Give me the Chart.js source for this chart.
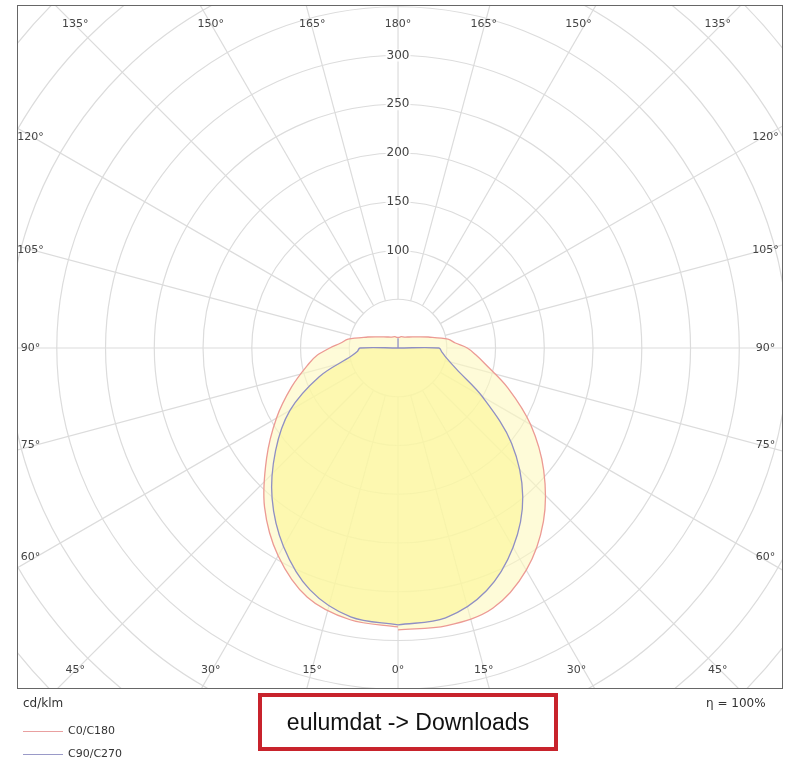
<!DOCTYPE html>
<html><head><meta charset="utf-8">
<script src="https://cdn.jsdelivr.net/npm/chart.js@4.4.1/dist/chart.umd.min.js"></script>
<style>
body{margin:0;background:#fff;font-family:"DejaVu Sans",sans-serif;}
#wrap{position:relative;width:800px;height:764px;}
#box{position:absolute;left:17px;top:5px;width:764px;height:682px;border:1px solid #666;pointer-events:none;}
.t{position:absolute;font-size:12px;color:#333;}
#dl{position:absolute;left:258px;top:693px;width:292px;height:50px;border:4px solid #c8232c;font-family:"Liberation Sans",Arial,sans-serif;font-size:23px;color:#111;text-align:center;line-height:50px;}
.lg{position:absolute;left:23px;width:40px;height:0;border-top:1px solid;}
</style></head><body>
<div id="wrap">
<canvas id="c" width="800" height="764"></canvas>
<div id="box"></div>
<div class="t" style="left:23px;top:696px;">cd/klm</div>
<div class="t" style="left:706px;top:696px;">η = 100%</div>
<div class="lg" style="top:731px;border-color:#e9a0a0"></div>
<div class="t" style="left:68px;top:724px;font-size:11px;">C0/C180</div>
<div class="lg" style="top:754px;border-color:#9a9ac8"></div>
<div class="t" style="left:68px;top:747px;font-size:11px;">C90/C270</div>
<div id="dl">eulumdat -&gt; Downloads</div>
</div>
<script>
const gamma = [0,10,20,30,40,50,60,70,80,85,90,95,100,110,120,135,150,165,175,180];
const C0   = [289,289,284,263,232,195,157,120,90,80,71,59,52,33,23,16,13,12,11,11];
const C180 = [286,283,272,246,213,176,144,116,93,83,70,59,52,33,23,16,13,12,11,11];
const C90  = [284,281,265,236,199,152,100,64,49,45,42,0,0,0,0,0,0,0,0,10];
const C270 = [284,280,264,235,201,164,128,86,49,42,39,0,0,0,0,0,0,0,0,10];
const ringValues = [50,100,150,200,250,300,350,400,450,500,550];
const ringLabels = ['100','150','200','250','300'];
const spokeAngles = [0,15,30,45,60,75,90,105,120,135,150,165,180,195,210,225,240,255,270,285,300,315,330,345];
const angleLabels = [
 {t:'0°',x:0,y:-330},{t:'15°',x:88,y:-330},{t:'30°',x:183,y:-330},{t:'45°',x:328,y:-330},
 {t:'15°',x:-88,y:-330},{t:'30°',x:-192,y:-330},{t:'45°',x:-331,y:-330},
 {t:'180°',x:0,y:332},{t:'165°',x:88,y:332},{t:'150°',x:185,y:332},{t:'135°',x:328,y:332},
 {t:'165°',x:-88,y:332},{t:'150°',x:-192,y:332},{t:'135°',x:-331,y:332},
 {t:'120°',x:-377,y:216},{t:'105°',x:-377,y:100},{t:'90°',x:-377,y:0},{t:'75°',x:-377,y:-100},{t:'60°',x:-377,y:-215},
 {t:'120°',x:377,y:216},{t:'105°',x:377,y:100},{t:'90°',x:377,y:0},{t:'75°',x:377,y:-100},{t:'60°',x:377,y:-215}
];
function loop(right,left){
  const pts=[];
  for(let i=0;i<gamma.length;i++){const a=gamma[i]*Math.PI/180;pts.push({x:right[i]*Math.sin(a),y:-right[i]*Math.cos(a)});}
  for(let i=gamma.length-1;i>=0;i--){const a=gamma[i]*Math.PI/180;pts.push({x:-left[i]*Math.sin(a),y:-left[i]*Math.cos(a)});}
  return pts;
}
const grid={id:'grid',beforeDatasetsDraw(ch){
  const c=ch.ctx,xs=ch.scales.x,ys=ch.scales.y,a=ch.chartArea;
  const cx=xs.getPixelForValue(0),cy=ys.getPixelForValue(0),k=xs.getPixelForValue(100)-cx;
  c.save();c.beginPath();c.rect(a.left,a.top,a.right-a.left,a.bottom-a.top);c.clip();
  c.strokeStyle='#dcdcdc';c.lineWidth=1.2;
  ringValues.forEach(r=>{c.beginPath();c.arc(cx,cy,r*k/100,0,2*Math.PI);c.stroke();});
  spokeAngles.forEach(g=>{const t=g*Math.PI/180;c.beginPath();
    c.moveTo(cx+50*k/100*Math.sin(t),cy+50*k/100*Math.cos(t));
    c.lineTo(cx+900*k/100*Math.sin(t),cy+900*k/100*Math.cos(t));c.stroke();});
  c.restore();
},afterDatasetsDraw(ch){
  const c=ch.ctx,xs=ch.scales.x,ys=ch.scales.y;
  c.save();c.font='12px "DejaVu Sans"';c.textAlign='center';c.textBaseline='middle';
  ringLabels.forEach(l=>{const px=xs.getPixelForValue(0),py=ys.getPixelForValue(+l);
    const w=c.measureText(l).width;c.fillStyle='rgba(255,255,255,0.85)';c.fillRect(px-w/2-1,py-6,w+2,12);
    c.fillStyle='#444';c.fillText(l,px,py);});
  c.font='11px "DejaVu Sans"';c.fillStyle='#444';
  angleLabels.forEach(o=>c.fillText(o.t,xs.getPixelForValue(o.x),ys.getPixelForValue(o.y)));
  c.restore();
}};
new Chart(document.getElementById('c'),{
  type:'scatter',
  data:{datasets:[
    {label:'C90/C270',data:loop(C90,C270),showLine:true,pointRadius:0,borderColor:'#8f8fc4',borderWidth:1.3,
     backgroundColor:'rgba(252,246,150,0.6)',fill:'shape',tension:0.35,order:1},
    {label:'C0/C180',data:loop(C0,C180),showLine:true,pointRadius:0,borderColor:'#ec9a94',borderWidth:1.3,
     backgroundColor:'rgba(253,249,190,0.6)',fill:'shape',tension:0.35,order:2}
  ]},
  options:{responsive:false,animation:false,
    layout:{padding:{left:17,top:5,right:18,bottom:76}},
    scales:{x:{display:false,min:-390.8,max:393.8},y:{display:false,min:-348.7,max:351.8}},
    plugins:{legend:{display:false},tooltip:{enabled:false}}},
  plugins:[grid]
});
</script></body></html>
